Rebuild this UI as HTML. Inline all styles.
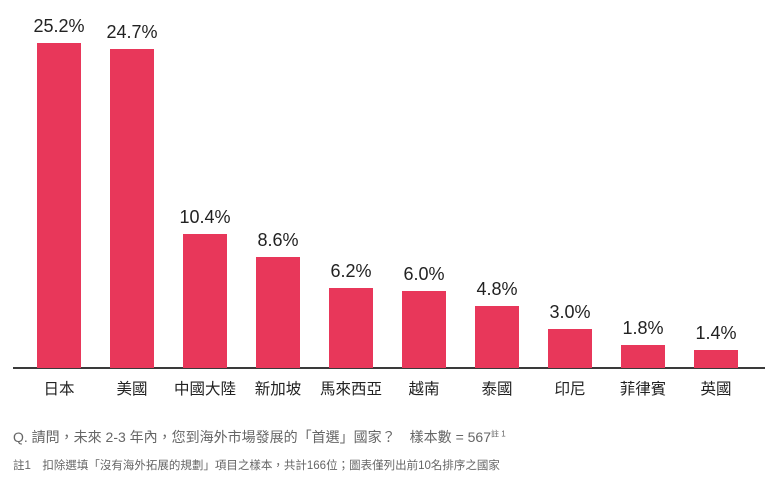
<!DOCTYPE html>
<html><head><meta charset="utf-8"><style>
body{margin:0;width:778px;height:486px;background:#fff;position:relative;overflow:hidden;font-family:"Liberation Sans","Noto Sans CJK TC",sans-serif}
.bar{position:absolute;width:44px;background:#e8375a}
.v{position:absolute;width:100px;text-align:center;font-size:18px;color:#222}
.l{position:absolute;width:100px;text-align:center;font-size:15.5px;color:#222;top:377px}
</style></head><body>
<div style="position:absolute;left:13px;top:367px;width:752px;height:2px;background:#3a3a3a"></div>
<div id="c"></div>
<div style="position:absolute;left:13px;top:427px;font-size:14px;color:#666">Q. 請問，未來 2-3 年內，您到海外市場發展的「首選」國家？　樣本數 = 567<sup style="font-size:8px">註 1</sup></div>
<div style="position:absolute;left:13px;top:457px;font-size:11.5px;color:#666">註1　扣除選填「沒有海外拓展的規劃」項目之樣本，共計166位；圖表僅列出前10名排序之國家</div>
<script>
var d=[["日本",25.2],["美國",24.7],["中國大陸",10.4],["新加坡",8.6],["馬來西亞",6.2],["越南",6.0],["泰國",4.8],["印尼",3.0],["菲律賓",1.8],["英國",1.4]];
var h='';
d.forEach(function(e,i){var x=37+i*73,ht=Math.round(e[1]*12.9),top=368-ht;
h+='<div class="bar" style="left:'+x+'px;top:'+top+'px;height:'+ht+'px"></div>';
h+='<div class="v" style="left:'+(x-28)+'px;top:'+(top-27)+'px">'+e[1].toFixed(1)+'%</div>';
h+='<div class="l" style="left:'+(x-28)+'px">'+e[0]+'</div>';});
document.getElementById('c').innerHTML=h;
</script>
</body></html>
